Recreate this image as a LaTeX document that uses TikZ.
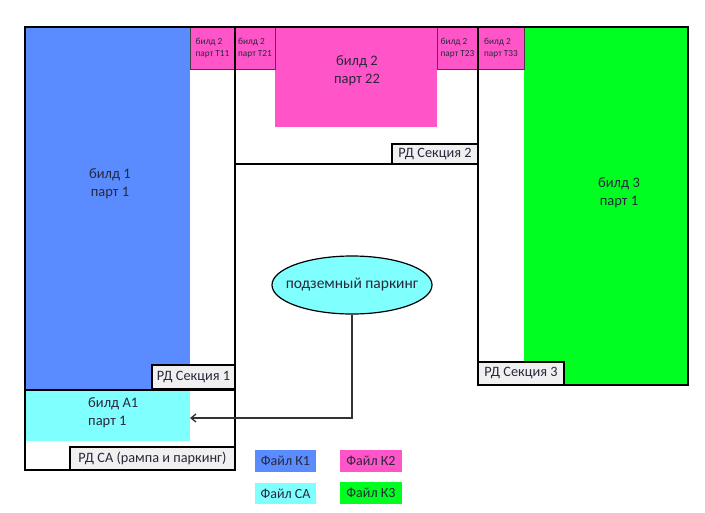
\documentclass[tikz,border=0pt]{standalone}
\usepackage{fontspec}
\setmainfont{Carlito}
\usetikzlibrary{shapes.geometric,arrows.meta}
\definecolor{cblue}{RGB}{90,140,255}
\definecolor{cpink}{RGB}{255,85,200}
\definecolor{ccyan}{RGB}{128,255,255}
\definecolor{cgreen}{RGB}{0,255,33}
\definecolor{cgray}{RGB}{240,240,240}
\definecolor{ctext}{RGB}{40,40,60}
\begin{document}
\begin{tikzpicture}[x=1pt,y=-1pt,
  area/.style={anchor=north west,inner sep=0pt,outer sep=0pt,draw=none},
  tbox/.style={area,draw=black!75,line width=0.7pt,fill=cpink,align=left,
    font=\fontsize{9.3}{12.5}\selectfont,text=ctext},
  big/.style={align=center,font=\fontsize{14.5}{18}\selectfont,text=ctext,inner sep=0pt},
  rd/.style={area,fill=cgray,draw=black,line width=1.3pt,
    font=\fontsize{14.3}{16}\selectfont,text=ctext},
  frame/.style={draw=black,line width=1.4pt},
  legend/.style={area,font=\fontsize{14}{16}\selectfont,text=ctext}]
\useasboundingbox (0,0) rectangle (705,512);
% coloured areas
\node[area,fill=cblue,minimum width=165pt,minimum height=362pt] (b1) at (25,27) {};
\node[area,fill=ccyan,minimum width=165pt,minimum height=51pt] (a1) at (25,390) {};
\node[area,fill=cpink,minimum width=162pt,minimum height=100pt] (b22) at (275,27) {};
\node[area,fill=cgreen,minimum width=164pt,minimum height=358pt] (b3) at (524,27) {};
\node[tbox,minimum width=45pt,minimum height=42pt] (t11) at (190,27) {билд 2\\парт T11};
\node[tbox,minimum width=40pt,minimum height=42pt] (t21) at (235,27) {билд 2\\парт T21};
\node[tbox,minimum width=41pt,minimum height=42pt] (t23) at (437,27) {билд 2\\парт T23};
\node[tbox,minimum width=46pt,minimum height=42pt] (t33) at (478,27) {билд 2\\парт T33};
% section frames
\draw[frame] (25,27) rectangle (235,390);
\draw[frame] (235,27) rectangle (478,164);
\draw[frame] (478,27) rectangle (688,385);
\draw[frame] (25,390) rectangle (235,470);
\draw[draw=black,line width=2pt] (25,390) -- (235,390);
% area texts
\node[big] (t1) at (110,184) {билд 1\\парт 1};
\node[big] (t2) at (357,71) {билд 2\\парт 22};
\node[big] (t3) at (619,193) {билд 3\\парт 1};
\node[big,align=left,anchor=west] (ta1) at (88,413) {билд А1\\парт 1};
% section labels
\node[rd,minimum width=83pt,minimum height=24pt] (rd1) at (152,365) {РД Секция 1};
\node[rd,minimum width=86pt,minimum height=20pt] (rd2) at (392,144) {РД Секция 2};
\node[rd,minimum width=86pt,minimum height=23pt] (rd3) at (478,362) {РД Секция 3};
\node[rd,minimum width=165pt,minimum height=23pt] (rdca) at (70,447) {РД СА (рампа и паркинг)};
% parking
\node[ellipse,draw=black,line width=1.2pt,fill=ccyan,minimum width=160pt,minimum height=58pt,
  inner xsep=-30pt,inner ysep=0pt,font=\fontsize{15.5}{18}\selectfont,text=ctext] (park) at (352,285) {подземный паркинг};
\coordinate (arr) at (190,418);
\draw[line width=1.3pt,black!80,-{Straight Barb[length=5pt,width=8pt]}] (park.south) |- (arr);
% legend
\node[legend,fill=cblue,minimum width=61pt,minimum height=22pt] (k1) at (255,450) {Файл К1};
\node[legend,fill=cpink,minimum width=62pt,minimum height=22pt] (k2) at (340,450) {Файл К2};
\node[legend,fill=ccyan,minimum width=61pt,minimum height=21pt] (ca) at (255,483) {Файл СА};
\node[legend,fill=cgreen,minimum width=62pt,minimum height=22pt] (k3) at (340,482) {Файл К3};
\end{tikzpicture}
\end{document}
